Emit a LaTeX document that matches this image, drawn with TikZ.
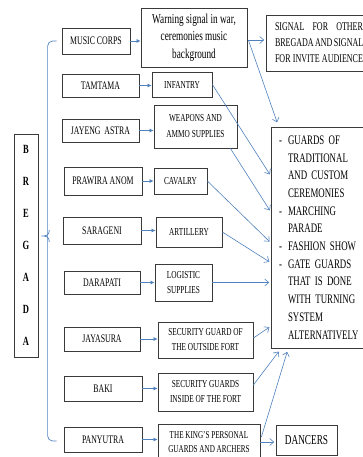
\documentclass[tikz,border=0pt]{standalone}
\usepackage{fontspec}
\setmainfont{Liberation Serif}[FakeStretch=0.68]
\usetikzlibrary{arrows.meta,calc}
\definecolor{arrowblue}{HTML}{4F81BD}
\definecolor{boxline}{HTML}{3A3A3A}
\newcommand\bitem[1]{\makebox[79pt][l]{\makebox[9pt][l]{-}#1}}
\newcommand\bcont[1]{\makebox[79pt][l]{\hspace*{9pt}#1}}
\begin{document}
\begin{tikzpicture}[x=1pt,y=-1pt,
  box/.style={draw=boxline, line width=0.75pt, inner sep=0pt, align=center},
  lbl/.style={box, font=\fontsize{11.5}{13}\selectfont},
  mid/.style={box, font=\fontsize{10.7}{15}\selectfont},
  arrA/.style={draw=arrowblue, line width=0.7pt, -{Latex[length=4pt,width=4pt]}},
  arrB/.style={draw=arrowblue, line width=0.6pt, -{Straight Barb[length=4pt,width=7pt]}, shorten >=1.5pt},
  brace/.style={draw=arrowblue, line width=0.7pt},
]
\useasboundingbox (0,0) rectangle (363,457);

% left column
\node[lbl, minimum width=68pt, minimum height=26pt] (music) at (96,41) {MUSIC CORPS};
\node[lbl, minimum width=77pt, minimum height=23pt] (tamtama) at (100.5,85.5) {TAMTAMA};
\node[lbl, minimum width=77pt, minimum height=23pt] (jayeng) at (100.5,130.5) {JAYENG\ \ ASTRA};
\node[lbl, minimum width=78pt, minimum height=28pt] (prawira) at (103,181) {PRAWIRA ANOM};
\node[lbl, minimum width=78pt, minimum height=27pt] (sarageni) at (102,230.5) {SARAGENI};
\node[lbl, minimum width=76pt, minimum height=23pt] (darapati) at (102,282.5) {DARAPATI};
\node[lbl, minimum width=76pt, minimum height=24pt] (jayasura) at (102,339) {JAYASURA};
\node[lbl, minimum width=78pt, minimum height=25pt] (baki) at (103,388.5) {BAKI};
\node[lbl, minimum width=78pt, minimum height=25pt] (panyutra) at (103,439.5) {PANYUTRA};

% middle column
\node[box, font=\fontsize{13.6}{17.5}\selectfont, minimum width=106pt, minimum height=59pt] (warn) at (194,37.5) {Warning signal in war,\\ ceremonies music\\ background};
\node[mid, minimum width=60pt, minimum height=25pt] (infantry) at (182,84.5) {INFANTRY};
\node[mid, font=\fontsize{10.7}{16}\selectfont, minimum width=83pt, minimum height=43pt] (weapons) at (195.5,126.5) {WEAPONS AND\\ AMMO SUPPLIES};
\node[mid, minimum width=53pt, minimum height=26pt] (cavalry) at (180.5,181) {CAVALRY};
\node[mid, minimum width=66pt, minimum height=30pt] (artillery) at (189,232) {ARTILLERY};
\node[mid, minimum width=57pt, minimum height=37pt] (logistic) at (183.5,282.5) {LOGISTIC\\ SUPPLIES};
\node[mid, minimum width=95pt, minimum height=36pt] (secout) at (205.5,340) {SECURITY GUARD OF\\ THE OUTSIDE FORT};
\node[mid, minimum width=95pt, minimum height=38pt] (secin) at (205.5,392) {SECURITY GUARDS\\ INSIDE OF THE FORT};
\node[mid, font=\fontsize{10.5}{14}\selectfont, minimum width=102pt, minimum height=36pt] (king) at (209,442) {THE KING'S PERSONAL\\ GUARDS AND ARCHERS};

% right column
\node[box, font=\fontsize{11.8}{16}\selectfont, minimum width=100pt, minimum height=56pt] (signal) at (316,43) {\makebox[94pt][r]{\makebox[88pt][s]{SIGNAL FOR OTHER}}\\ \makebox[94pt][r]{\makebox[88pt][s]{BREGADA AND SIGNAL}}\\ \makebox[94pt][r]{\makebox[88pt][s]{FOR INVITE AUDIENCE}}};
\node[box, font=\fontsize{13}{17.7}\selectfont, minimum width=95pt, minimum height=221pt, align=left, text width=79pt, inner xsep=8pt] (big) at (318.5,237.5) {\bitem{GUARDS OF}\\ \bcont{TRADITIONAL}\\ \bcont{AND CUSTOM}\\ \bcont{CEREMONIES}\\ \bitem{MARCHING}\\ \bcont{PARADE}\\ \bitem{FASHION SHOW}\\ \bitem{GATE GUARDS}\\ \bcont{THAT IS DONE}\\ \bcont{WITH TURNING}\\ \bcont{SYSTEM}\\ \bcont{ALTERNATIVELY}};
\node[box, font=\fontsize{13.6}{14}\selectfont, minimum width=61pt, minimum height=30pt] (dancers) at (306.5,440) {DANCERS};

% BREGADA
\node[box, font=\bfseries\fontsize{12.5}{32}\selectfont, minimum width=24pt, minimum height=223pt] (bregada) at (26,245.5) {B\\ R\\ E\\ G\\ A\\ D\\ A};

% brace
\coordinate (bt) at ($(bregada.east)+(3,-9.5)$);
\draw[brace, rounded corners=5pt] ($(music.west)+(-5,0)$) -- ($(music.west)+(-14,0)$) -- ($(panyutra.west)+(-16,1.5)$) -- ($(panyutra.west)+(-7,1.5)$);
\draw[brace] ($(bt)+(8,-6)$) .. controls ($(bt)+(8,0)$) and ($(bt)+(4,0)$) .. (bt) .. controls ($(bt)+(4,0)$) and ($(bt)+(8,0)$) .. ($(bt)+(8,6)$);

% left to middle
\draw[arrA] (music.east) -- (music.east -| warn.west);
\draw[arrA] (tamtama.east) -- (tamtama.east -| infantry.west);
\draw[arrA] (jayeng.east) -- (jayeng.east -| weapons.west);
\draw[arrA] (prawira.east) -- (prawira.east -| cavalry.west);
\draw[arrA] (sarageni.east) -- (sarageni.east -| artillery.west);
\draw[arrA] (darapati.east) -- (darapati.east -| logistic.west);
\draw[arrA] (jayasura.east) -- (jayasura.east -| secout.west);
\draw[arrA] (baki.east) -- (baki.east -| secin.west);
\draw[arrA] (panyutra.east) -- (panyutra.east -| king.west);

% middle to right
\coordinate (ws) at ($(warn.east)+(1,2.5)$);
\draw[arrB] (ws) -- (ws -| signal.west);
\draw[arrB, shorten >=4.5pt] (ws) -- ($(big.north west)+(8,0)$);
\draw[arrB] (infantry.east) -- ($(big.north west)+(0,49)$);
\draw[arrB] ($(weapons.south east)+(-7,0)$) -- ($(big.north west)+(0,85)$);
\draw[arrB] (cavalry.east) -- ($(big.north west)+(0,116)$);
\draw[arrB] (artillery.east) -- ($(big.north west)+(0,136)$);
\draw[arrB] (logistic.east) -- (logistic.east -| big.west);
\draw[arrB] ($(secout.east)+(0,-2)$) -- ($(big.south west)+(0,-22)$);
\draw[arrB] ($(secin.east)+(0,-7)$) -- ($(big.south west)+(9,2)$);
\draw[arrB] ($(king.east)+(1,-5)$) -- ($(big.south west)+(17,2)$);
\draw[arrB] (king.east) -- (king.east -| dancers.west);
\end{tikzpicture}
\end{document}
